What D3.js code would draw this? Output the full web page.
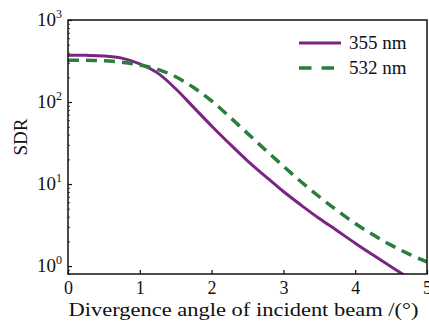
<!DOCTYPE html>
<html><head><meta charset="utf-8">
<script src="https://cdn.jsdelivr.net/npm/d3@7/dist/d3.min.js"></script>
<style>
html,body{margin:0;padding:0;background:#fff;}
</style></head>
<body>
<svg id="chart" width="429" height="322"></svg>
<script>
const xValues = [0, 0.25, 0.5, 0.75, 1.0, 1.25, 1.5, 1.75, 2.0, 2.25, 2.5, 2.75, 3.0, 3.25, 3.5, 3.75, 4.0, 4.25, 4.5, 4.75, 5.0];
const sdr355 = [372, 371, 365, 343, 292, 225, 145, 86, 51, 31, 19.2, 12.4, 8.1, 5.5, 3.8, 2.7, 1.9, 1.36, 0.98, 0.71, 0.52];
const sdr532 = [323, 322, 318, 305, 283, 250, 203, 150, 103, 66, 41.5, 26, 16.5, 10.6, 7, 4.75, 3.3, 2.4, 1.8, 1.4, 1.12];
const seriesNames = ["355 nm", "532 nm"];
const xTicks = [0, 1, 2, 3, 4, 5];
const yTicks = [1, 10, 100, 1000];
const yExponents = ["0", "1", "2", "3"];
const xLabel = "Divergence angle of incident beam /(°)";
const yLabel = "SDR";

const FONT = "'Liberation Serif','DejaVu Serif','Times New Roman',serif";
const svg = d3.select("#chart");
const m = {left: 68, top: 20, right: 427, bottom: 274};
const x = d3.scaleLinear().domain([0, 5]).range([m.left, m.right]);
const y = d3.scaleLog().domain([0.8, 1000]).range([m.bottom, m.top]);

svg.append("defs").append("clipPath").attr("id", "clip")
  .append("rect").attr("x", m.left).attr("y", m.top)
  .attr("width", m.right - m.left).attr("height", m.bottom - m.top);

const colors = ["#7b2484", "#2b7d3b"];
const dashes = [null, "11,7"];
const widths = [3, 3.5];
const series = [sdr355, sdr532];

const line = d3.line().x((d, i) => x(xValues[i])).y(d => y(d)).curve(d3.curveCatmullRom.alpha(0.5));
const g = svg.append("g").attr("clip-path", "url(#clip)");
series.forEach((s, k) => {
  g.append("path").datum(s).attr("d", line)
    .attr("fill", "none").attr("stroke", colors[k])
    .attr("stroke-width", widths[k])
    .attr("stroke-dasharray", dashes[k]);
});

// frame
svg.append("rect").attr("x", m.left).attr("y", m.top)
  .attr("width", m.right - m.left).attr("height", m.bottom - m.top)
  .attr("fill", "none").attr("stroke", "#111").attr("stroke-width", 1.5);

// x axis ticks (inward)
const xAxis = d3.axisBottom(x).tickValues(xTicks).tickSizeInner(-4).tickSizeOuter(0).tickFormat(d3.format("d"));
const gx = svg.append("g").attr("transform", `translate(0,${m.bottom})`).call(xAxis);
gx.attr("font-family", FONT).attr("font-size", 18);
gx.select(".domain").remove();
gx.selectAll("line").attr("stroke", "#111").attr("stroke-width", 1.2);
gx.selectAll("text").attr("fill", "#111").attr("y", 7).attr("dy", "0.71em");

// y axis major ticks
const yAxis = d3.axisLeft(y).tickValues(yTicks).tickSizeInner(-4).tickSizeOuter(0).tickFormat("");
const gy = svg.append("g").attr("transform", `translate(${m.left},0)`).call(yAxis);
gy.select(".domain").remove();
gy.selectAll("line").attr("stroke", "#111").attr("stroke-width", 1.2);

// minor ticks
const minor = [];
[0.1, 1, 10, 100].forEach(b => { for (let k = 2; k <= 9; k++) { const v = b * k; if (v >= 0.8 && v < 1000) minor.push(v); } });
const yMinor = d3.axisLeft(y).tickValues(minor).tickSizeInner(-2).tickSizeOuter(0).tickFormat("");
const gm = svg.append("g").attr("transform", `translate(${m.left},0)`).call(yMinor);
gm.select(".domain").remove();
gm.selectAll("line").attr("stroke", "#111").attr("stroke-width", 0.8);

// y tick labels
yTicks.forEach((v, i) => {
  const t = svg.append("text").attr("x", m.left - 6).attr("y", y(v) + 6)
    .attr("text-anchor", "end").attr("font-family", FONT).attr("font-size", 19).attr("fill", "#111");
  t.append("tspan").text("10");
  t.append("tspan").attr("font-size", 12).attr("dy", -8).text(yExponents[i]);
});

// axis labels
svg.append("text").attr("x", (m.left + m.right) / 2 - 4).attr("y", 316)
  .attr("text-anchor", "middle").attr("font-family", FONT).attr("font-size", 19).attr("fill", "#111")
  .attr("textLength", 350).attr("lengthAdjust", "spacingAndGlyphs").text(xLabel);
svg.append("text").attr("transform", `translate(27,${137}) rotate(-90)`)
  .attr("text-anchor", "middle").attr("font-family", FONT).attr("font-size", 19).attr("fill", "#111").text(yLabel);

// legend
const legY = [43, 68];
seriesNames.forEach((n, k) => {
  svg.append("line").attr("x1", 299).attr("x2", 341).attr("y1", legY[k]).attr("y2", legY[k])
    .attr("stroke", colors[k]).attr("stroke-width", widths[k])
    .attr("stroke-dasharray", k === 1 ? "12.5,10" : null);
  svg.append("text").attr("x", 349).attr("y", legY[k] + 6).attr("font-family", FONT)
    .attr("font-size", 19).attr("fill", "#111").text(n);
});
</script>
</body></html>
